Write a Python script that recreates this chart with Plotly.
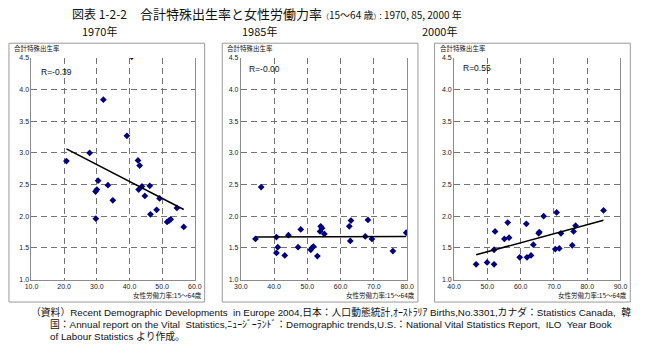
import numpy as np
import plotly.graph_objects as go

W, H = 650, 358

# ---- data ----
years = ["1970年", "1985年", "2000年"]
r_labels = ["R=-0.39", "R=-0.00", "R=0.55"]

x_1970 = [20.7, 27.8, 32.0, 40.7, 39.2, 42.6, 43.1, 30.4, 33.4, 30.0, 29.6, 34.9, 29.7,
          42.8, 43.8, 46.2, 44.7, 49.2, 46.4, 48.3, 54.5, 51.5, 52.1, 52.6, 56.6]
y_1970 = [2.87, 3.00, 3.84, 4.52, 3.27, 2.88, 2.80, 2.56, 2.49, 2.42, 2.39, 2.25, 1.96,
          2.42, 2.47, 2.48, 2.32, 2.28, 2.03, 2.10, 2.13, 1.91, 1.93, 1.95, 1.83]

x_1985 = [34.4, 36.1, 40.7, 44.3, 41.1, 40.7, 43.2, 47.2, 48.0, 51.0, 51.4, 51.8, 53.0,
          53.8, 54.0, 54.4, 55.1, 62.6, 63.1, 62.9, 68.2, 67.4, 69.4, 75.7, 79.7]
y_1985 = [1.64, 2.46, 1.67, 1.70, 1.51, 1.42, 1.38, 1.51, 1.79, 1.47, 1.50, 1.52, 1.37,
          1.76, 1.84, 1.81, 1.72, 1.84, 1.93, 1.61, 1.94, 1.68, 1.64, 1.45, 1.74]

x_2000 = [46.6, 49.9, 52.0, 52.0, 52.3, 55.1, 56.1, 56.5, 59.7, 61.7, 61.9, 63.1, 63.8,
          65.4, 65.6, 66.9, 70.8, 70.4, 71.6, 72.1, 75.5, 75.9, 76.5, 84.9]
y_2000 = [1.24, 1.27, 1.24, 1.47, 1.76, 1.64, 1.90, 1.66, 1.35, 1.88, 1.35, 1.38, 1.55,
          1.73, 1.75, 2.00, 2.06, 1.48, 1.49, 1.73, 1.54, 1.76, 1.85, 2.09]

x_ranges = [[10, 60], [30, 80], [40, 90]]
y_range = [1.0, 4.5]

y_title = "合計特殊出生率"
x_title = "女性労働力率:15～64歳"
notes = [
    "（資料）Recent Demographic Developments  in Europe 2004,日本：人口動態統計,ｵｰｽﾄﾗﾘｱ Births,No.3301,カナダ：Statistics Canada,  韓",
    "国：Annual report on the Vital  Statistics,ﾆｭｰｼﾞｰﾗﾝﾄﾞ：Demographic trends,U.S.：National Vital Statistics Report,  ILO  Year Book",
    "of Labour Statistics より作成。",
]

xs = [x_1970, x_1985, x_2000]
ys = [y_1970, y_1985, y_2000]

# ---- layout geometry (pixels) ----
plot_px = [(25, 192), (239, 409), (457, 627)]
plot_top, plot_bot = 55, 281
boxes = [(2, 202), (220, 420), (437, 637)]
box_top, box_bot = 40, 304
year_cx = [95, 258, 442]
r_pos = [(34, 69), (246, 66), (465, 65)]

px = lambda v: v / W
py = lambda v: 1 - v / H

fig = go.Figure()
CJK = "Noto Sans CJK JP"
LAT = "Liberation Sans, Arial, Noto Sans CJK JP"
grid = "#747474"

for i in range(3):
    sx = "" if i == 0 else str(i + 1)
    xa, ya = "x" + sx, "y" + sx
    fig.add_trace(go.Scatter(x=xs[i], y=ys[i], mode="markers", xaxis=xa, yaxis=ya,
                             marker=dict(symbol="diamond", size=5.2, color="#000080"),
                             showlegend=False, hoverinfo="x+y"))
    xarr = np.array(xs[i]); yarr = np.array(ys[i])
    k, b = np.polyfit(xarr, yarr, 1)
    lx = np.array([xarr.min(), xarr.max()])
    fig.add_trace(go.Scatter(x=lx, y=k * lx + b, mode="lines", xaxis=xa, yaxis=ya,
                             line=dict(color="black", width=1.5), showlegend=False,
                             hoverinfo="skip"))
    axcommon = dict(showgrid=True, gridcolor=grid, griddash="6px,4px", gridwidth=1,
                    zeroline=False, showline=True, linecolor="#8c8c8c", linewidth=1,
                    ticks="", tickfont=dict(family=LAT, size=7, color="#222"),
                    tickformat=".1f")
    fig.update_layout(**{
        ("xaxis" + sx): dict(axcommon, range=x_ranges[i], dtick=10,
                             domain=[px(plot_px[i][0]), px(plot_px[i][1])],
                             anchor=ya, mirror=False),
        ("yaxis" + sx): dict(axcommon, range=y_range, dtick=0.5,
                             domain=[py(plot_bot), py(plot_top)],
                             anchor=xa, mirror=True),
    })
    fig.add_shape(type="rect", xref="paper", yref="paper",
                  x0=px(boxes[i][0]), x1=px(boxes[i][1]), y0=py(box_bot), y1=py(box_top),
                  line=dict(color="#9a9a9a", width=1), layer="below")
    fig.add_annotation(text=years[i], xref="paper", yref="paper", x=px(year_cx[i]), y=py(28),
                       showarrow=False, font=dict(family=CJK, size=11, color="#111"),
                       xanchor="center", yanchor="middle", borderpad=0)
    fig.add_annotation(text=y_title, xref="paper", yref="paper", x=px(boxes[i][0] + 4), y=py(45),
                       showarrow=False, font=dict(family=CJK, size=6.5, color="#111"),
                       xanchor="left", yanchor="middle", borderpad=0)
    fig.add_annotation(text=x_title, xref="paper", yref="paper", x=px(boxes[i][1] - 2), y=py(297),
                       showarrow=False, font=dict(family=CJK, size=6.5, color="#111"),
                       xanchor="right", yanchor="middle", borderpad=0)
    fig.add_annotation(text=r_labels[i], xref="paper", yref="paper", x=px(r_pos[i][0]), y=py(r_pos[i][1]),
                       showarrow=False, font=dict(family=LAT, size=8.5, color="#111"),
                       xanchor="left", yanchor="middle", borderpad=0)

# title: narrow punctuation rendered smaller to approximate the condensed original font
sp = lambda t, s: f"<span style='font-size:{s}px'>{t}</span>"
title_html = (sp("図表 1-2-2", 12) + "　合計特殊出生率と女性労働力率"
              + sp("（", 7) + sp("15～64 歳", 10) + sp("）：", 7)
              + sp("1970, 85, 2000 年", 10))
fig.add_annotation(text=title_html, xref="paper", yref="paper", x=px(266), y=py(10),
                   showarrow=False, font=dict(family=CJK, size=13, color="#111"),
                   xanchor="center", yanchor="middle", borderpad=0)

NOTE_FONT = "Liberation Sans, Arial, Noto Sans CJK JP"
note_x = [23, 43, 43]
note_y = [314.5, 327, 339.5]
for t, nx, ny in zip(notes, note_x, note_y):
    fig.add_annotation(text=t, xref="paper", yref="paper", x=px(nx), y=py(ny),
                       showarrow=False, font=dict(family=NOTE_FONT, size=9.8, color="#111"),
                       xanchor="left", yanchor="middle", borderpad=0)

fig.update_layout(width=W, height=H, margin=dict(l=0, r=0, t=0, b=0),
                  paper_bgcolor="white", plot_bgcolor="white")
fig.write_html("out.html", config={"displayModeBar": False},
               post_script="document.body.style.margin='0';document.body.style.overflow='hidden';")
